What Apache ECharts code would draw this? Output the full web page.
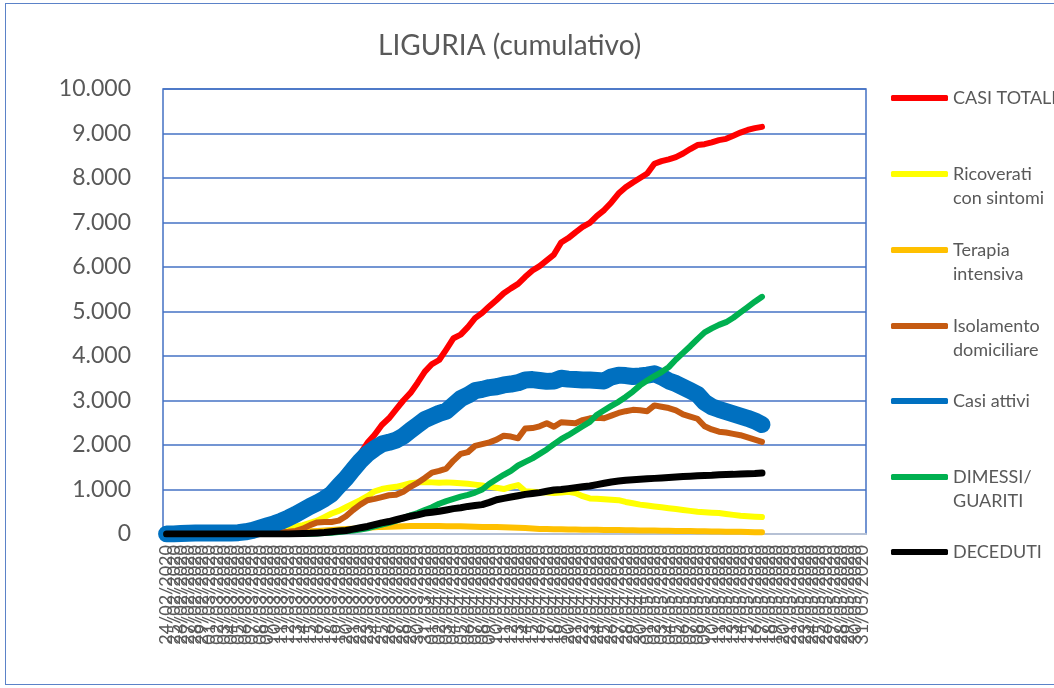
<!DOCTYPE html>
<html>
<head>
<meta charset="utf-8">
<script src="https://cdn.jsdelivr.net/npm/echarts@6/dist/echarts.min.js"></script>
<style>
  html, body { margin: 0; padding: 0; background: #fff; overflow: hidden; }
  #frame { position: absolute; left: 5px; top: 3px; width: 1100px; height: 682px; border: 1.5px solid #5B82C8; box-sizing: border-box; }
  #liguria-chart { position: absolute; left: 0; top: 0; width: 1054px; height: 688px; }
</style>
</head>
<body>
<div id="frame"></div>
<div id="liguria-chart"></div>
<script>
// date dal 24/02/2020 al 31/05/2020
var giorni = [
  "24/02/2020", "25/02/2020", "26/02/2020", "27/02/2020", "28/02/2020", "29/02/2020",
  "01/03/2020", "02/03/2020", "03/03/2020", "04/03/2020", "05/03/2020", "06/03/2020", "07/03/2020", "08/03/2020",
  "09/03/2020", "10/03/2020", "11/03/2020", "12/03/2020", "13/03/2020", "14/03/2020", "15/03/2020", "16/03/2020",
  "17/03/2020", "18/03/2020", "19/03/2020", "20/03/2020", "21/03/2020", "22/03/2020", "23/03/2020", "24/03/2020",
  "25/03/2020", "26/03/2020", "27/03/2020", "28/03/2020", "29/03/2020", "30/03/2020", "31/03/2020",
  "01/04/2020", "02/04/2020", "03/04/2020", "04/04/2020", "05/04/2020", "06/04/2020", "07/04/2020", "08/04/2020",
  "09/04/2020", "10/04/2020", "11/04/2020", "12/04/2020", "13/04/2020", "14/04/2020", "15/04/2020", "16/04/2020",
  "17/04/2020", "18/04/2020", "19/04/2020", "20/04/2020", "21/04/2020", "22/04/2020", "23/04/2020", "24/04/2020",
  "25/04/2020", "26/04/2020", "27/04/2020", "28/04/2020", "29/04/2020", "30/04/2020",
  "01/05/2020", "02/05/2020", "03/05/2020", "04/05/2020", "05/05/2020", "06/05/2020", "07/05/2020", "08/05/2020",
  "09/05/2020", "10/05/2020", "11/05/2020", "12/05/2020", "13/05/2020", "14/05/2020", "15/05/2020", "16/05/2020",
  "17/05/2020", "18/05/2020", "19/05/2020", "20/05/2020", "21/05/2020", "22/05/2020", "23/05/2020", "24/05/2020",
  "25/05/2020", "26/05/2020", "27/05/2020", "28/05/2020", "29/05/2020", "30/05/2020", "31/05/2020"
];

// valori (fino al 17/05)
var casiTotali = [
  0, 1, 11, 19, 20, 20, 22, 23, 24, 24, 30, 50, 80, 130, 180, 230, 290, 370, 450, 545,
  640, 730, 830, 950, 1140, 1330, 1560, 1800, 2050, 2230, 2450, 2600, 2800, 3000, 3170, 3400, 3650, 3820, 3910, 4150,
  4400, 4480, 4650, 4850, 4970, 5120, 5260, 5410, 5520, 5620, 5780, 5920, 6020, 6150, 6280, 6550, 6650, 6780, 6900, 6990,
  7150, 7280, 7450, 7650, 7790, 7900, 8000, 8100, 8320, 8380, 8420, 8470, 8550, 8650, 8740, 8760, 8800, 8850, 8880, 8950,
  9020, 9080, 9120, 9150
];
var ricoverati = [
  0, 0, 3, 5, 6, 6, 7, 7, 8, 8, 10, 20, 30, 50, 70, 90, 110, 140, 170, 200,
  250, 300, 380, 460, 520, 600, 680, 760, 850, 960, 1010, 1040, 1060, 1100, 1140, 1160, 1170, 1160, 1150, 1160,
  1150, 1140, 1130, 1110, 1090, 1060, 1040, 1010, 1060, 1100, 960, 950, 940, 930, 920, 930, 950, 920, 850, 800,
  790, 780, 770, 760, 720, 690, 660, 640, 620, 600, 580, 560, 540, 520, 500, 490, 480, 470, 450, 430,
  410, 400, 390, 380
];
var terapiaIntensiva = [
  0, 0, 0, 0, 0, 0, 0, 0, 0, 0, 0, 2, 5, 10, 15, 20, 25, 30, 40, 50,
  60, 70, 80, 90, 100, 110, 120, 130, 140, 150, 160, 165, 170, 175, 178, 180, 179, 178, 177, 176,
  175, 172, 170, 165, 160, 158, 155, 150, 145, 140, 135, 125, 115, 110, 108, 105, 103, 100, 98, 96,
  94, 92, 90, 88, 85, 82, 80, 78, 76, 74, 72, 70, 68, 65, 62, 60, 57, 55, 52, 50,
  48, 45, 42, 40
];
var isolamento = [
  0, 0, 0, 0, 0, 0, 0, 0, 0, 0, 0, 0, 0, 10, 20, 30, 40, 50, 70, 120,
  200, 260, 270, 270, 300, 400, 540, 660, 760, 790, 830, 870, 880, 950, 1060, 1150, 1260, 1380, 1420, 1470,
  1650, 1800, 1840, 1980, 2020, 2060, 2120, 2210, 2190, 2150, 2370, 2380, 2420, 2490, 2410, 2510, 2500, 2490, 2560, 2600,
  2610, 2600, 2660, 2720, 2760, 2790, 2780, 2760, 2890, 2860, 2830, 2780, 2690, 2640, 2590, 2420, 2350, 2300, 2280, 2250,
  2220, 2170, 2120, 2070
];
var casiAttivi = [
  0, 1, 11, 19, 20, 20, 22, 23, 24, 24, 30, 50, 80, 130, 180, 230, 290, 360, 440, 530,
  620, 700, 790, 900, 1080, 1250, 1450, 1640, 1800, 1920, 2020, 2060, 2110, 2200, 2330, 2450, 2570, 2640, 2710, 2760,
  2900, 3040, 3120, 3220, 3250, 3290, 3310, 3350, 3370, 3400, 3460, 3470, 3450, 3430, 3440, 3500, 3480, 3470, 3460, 3460,
  3450, 3440, 3530, 3570, 3560, 3540, 3550, 3570, 3600, 3530, 3440, 3380, 3300, 3220, 3140, 2960, 2860, 2800, 2750, 2700,
  2650, 2600, 2540, 2460
];
var dimessiGuariti = [
  0, 0, 0, 0, 0, 0, 0, 0, 0, 0, 0, 0, 0, 0, 0, 0, 0, 0, 0, 0,
  5, 10, 20, 30, 45, 60, 80, 100, 130, 170, 210, 250, 300, 360, 420, 470, 540, 600, 680, 740,
  790, 840, 880, 930, 1000, 1130, 1230, 1330, 1420, 1540, 1620, 1700, 1800, 1900, 2020, 2130, 2220, 2320, 2420, 2520,
  2680, 2780, 2880, 2970, 3080, 3200, 3340, 3450, 3550, 3640, 3750, 3920, 4070, 4220, 4380, 4530, 4620, 4700, 4760, 4860,
  4980, 5100, 5220, 5330
];
var deceduti = [
  0, 0, 0, 0, 0, 0, 0, 0, 0, 0, 0, 0, 0, 0, 0, 0, 0, 0, 5, 10,
  15, 25, 35, 50, 65, 80, 110, 140, 170, 210, 250, 280, 320, 360, 400, 430, 470, 490, 510, 540,
  570, 590, 620, 640, 660, 710, 770, 800, 830, 860, 890, 910, 930, 960, 990, 1000, 1020, 1040, 1060, 1080,
  1110, 1140, 1170, 1190, 1210, 1220, 1230, 1240, 1250, 1260, 1270, 1280, 1290, 1300, 1310, 1315, 1320, 1330, 1335, 1340,
  1350, 1355, 1360, 1370
];

var nomi = ["CASI TOTALI", "Ricoverati\ncon sintomi", "Terapia\nintensiva", "Isolamento\ndomiciliare", "Casi attivi", "DIMESSI/\nGUARITI", "DECEDUTI"];
var colori = ["#FF0000", "#FFFF00", "#FFC000", "#C55A11", "#0070C0", "#00B050", "#000000"];
var spessori = [6, 6, 6, 6, 17, 6, 7];
var valori = [casiTotali, ricoverati, terapiaIntensiva, isolamento, casiAttivi, dimessiGuariti, deceduti];
var legendaTop = [86, 138, 214, 290, 389, 441, 540];

var font = "Lato, 'Open Sans', sans-serif";
var chartDom = document.getElementById("liguria-chart");
var myChart = echarts.init(chartDom);
var option;

option = {
  animation: false,
  color: colori,
  title: {
    text: "LIGURIA (cumulativo)",
    left: 373,
    top: 27,
    textStyle: { color: "#595959", fontSize: 28, fontWeight: "normal", fontFamily: font },
  },
  legend: nomi.map(function (n, i) {
    return {
      data: [n],
      orient: "vertical",
      left: 891,
      top: legendaTop[i],
      padding: 0,
      icon: "roundRect",
      itemWidth: 57,
      itemHeight: 6,
      selectedMode: false,
      formatter: function (name) {
        return name.indexOf("\n") >= 0 ? " \n" + name : name;
      },
      textStyle: { color: "#595959", fontSize: 18, lineHeight: 24, fontFamily: font },
    };
  }),
  grid: {
    left: 163,
    right: 188,
    top: 89,
    bottom: 154,
    show: true,
    borderColor: "#4472C4",
    borderWidth: 1.5,
    outerBoundsMode: "none",
  },
  xAxis: {
    type: "category",
    boundaryGap: true,
    data: giorni,
    axisLine: { lineStyle: { color: "#D9D9D9", width: 1.5 } },
    axisTick: { show: false },
    axisLabel: { interval: 0, rotate: 90, margin: 11, color: "#595959", fontSize: 18, fontFamily: font },
  },
  yAxis: {
    type: "value",
    min: 0,
    max: 10000,
    interval: 1000,
    axisLine: { show: false },
    axisTick: { show: false },
    splitLine: { lineStyle: { color: "#4472C4", width: 1.5 } },
    axisLabel: {
      margin: 32,
      color: "#595959",
      fontSize: 23,
      fontFamily: font,
      formatter: function (v) {
        return String(v).replace(/\B(?=(\d{3})+(?!\d))/g, ".");
      },
    },
  },
  series: nomi.map(function (n, i) {
    return {
      name: n,
      type: "line",
      data: valori[i],
      showSymbol: false,
      symbol: "none",
      lineStyle: { color: colori[i], width: spessori[i], cap: "round", join: "round" },
      itemStyle: { color: colori[i] },
    };
  }),
};

option && myChart.setOption(option);
</script>
</body>
</html>
